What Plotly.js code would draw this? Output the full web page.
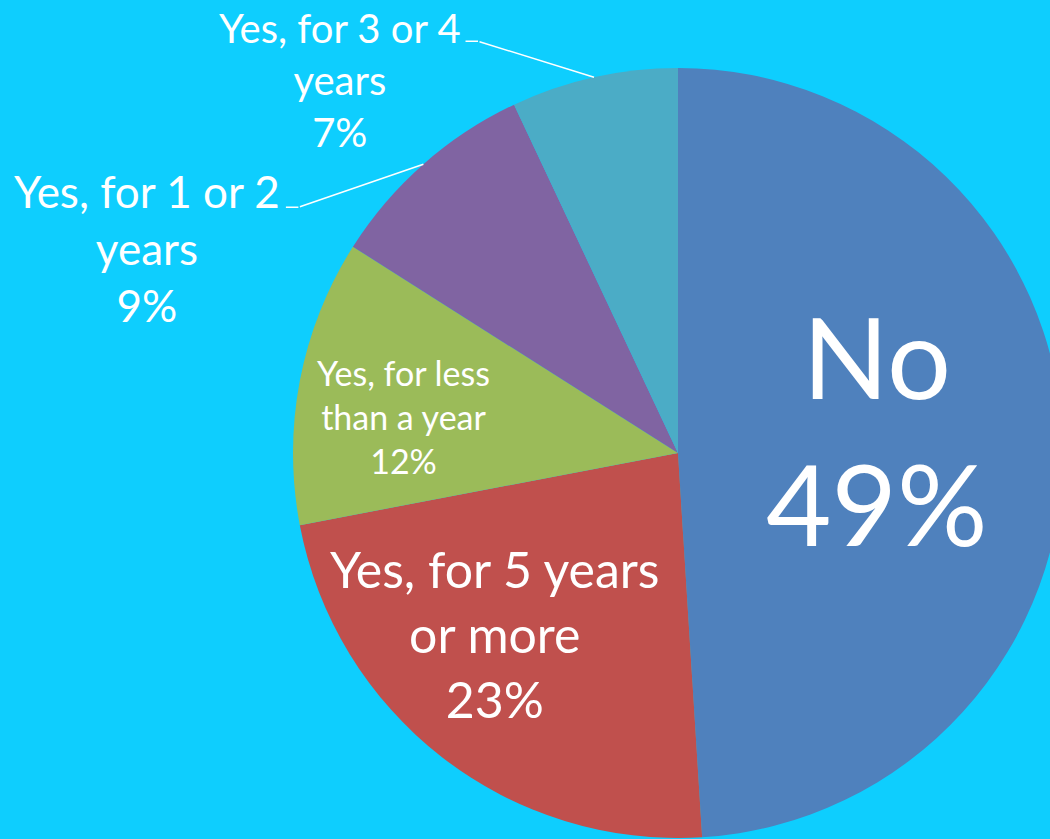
<!DOCTYPE html>
<html>
<head>
<meta charset="utf-8">
<script src="https://cdn.plot.ly/plotly-3.0.1.min.js"></script>
<style>
html, body { margin: 0; padding: 0; overflow: hidden; background: #0ECEFE; width: 1050px; height: 839px; }
#chart { width: 1100px; height: 900px; }
</style>
</head>
<body>
<div id="chart"></div>
<script>
// Data
const categories = ["No", "Yes, for 5 years or more", "Yes, for less than a year", "Yes, for 1 or 2 years", "Yes, for 3 or 4 years"];
const displayText = ["No", "Yes, for 5 years<br>or more", "Yes, for less<br>than a year", "Yes, for 1 or 2<br>years", "Yes, for 3 or 4<br>years"];
const values = [49, 23, 12, 9, 7];
const colors = ["#4F81BD", "#C0504D", "#9BBB59", "#8064A2", "#4BACC6"];

// Layout constants (pixels)
const W = 1100, H = 900;
const CX = 678, CY = 453, R = 385;
const FONT = "Lato, 'Open Sans', sans-serif";
const textSizes = [113, 50, 34, 44, 40];
// per slice label placement: radius fraction along the mid-angle, pixel nudges,
// and for outside labels a leader line tail offset from the rim point
const labelPlacement = [
  { f: 0.51, dx: 3, dy: -18 },
  { f: 0.60, dx: -41, dy: -2 },
  { f: 0.725, dx: 0, dy: 16 },
  { f: 1.0, dx: -276, dy: 84, lx: -125, ly: 43 },
  { f: 1.0, dx: -254, dy: 3, lx: -116, ly: -36 }
];

const total = values.reduce((a, b) => a + b, 0);

const trace = {
  type: "pie",
  labels: categories,
  values: values,
  textinfo: "none",
  sort: false,
  direction: "clockwise",
  rotation: 0,
  marker: { colors: colors, line: { width: 0 } },
  domain: { x: [(CX - R) / W, (CX + R) / W], y: [1 - (CY + R) / H, 1 - (CY - R) / H] },
  hoverinfo: "label+percent",
  automargin: false
};

const annotations = [];
let cum = 0;
values.forEach((v, i) => {
  const mid = (cum + v / 2) / total;
  cum += v;
  const ang = mid * 2 * Math.PI;
  const p = labelPlacement[i];
  const px = CX + p.f * R * Math.sin(ang);
  const py = CY - p.f * R * Math.cos(ang);
  const pct = Math.round(v / total * 100) + "%";
  if (p.lx !== undefined) {
    // leader line from rim to label
    annotations.push({
      xref: "paper", yref: "paper", x: px / W, y: 1 - py / H,
      text: "", showarrow: true, arrowhead: 0, arrowwidth: 1.5, arrowcolor: "#FFFFFF",
      ax: p.lx, ay: p.ly, standoff: 0, startstandoff: 0
    });
    annotations.push({
      xref: "paper", yref: "paper", x: (px + p.lx) / W, y: 1 - (py + p.ly) / H,
      text: "", showarrow: true, arrowhead: 0, arrowwidth: 1.5, arrowcolor: "#FFFFFF",
      ax: -14, ay: 0, standoff: 0, startstandoff: 0
    });
  }
  annotations.push({
    xref: "paper", yref: "paper",
    x: (px + p.dx) / W, y: 1 - (py + p.dy) / H,
    xanchor: "center", yanchor: "middle",
    text: displayText[i] + "<br>" + pct,
    showarrow: false, align: "center",
    font: { family: FONT, color: "#FFFFFF", size: textSizes[i] }
  });
});

const layout = {
  width: W,
  height: H,
  margin: { l: 0, r: 0, t: 0, b: 0 },
  paper_bgcolor: "#0ECEFE",
  plot_bgcolor: "#0ECEFE",
  showlegend: false,
  font: { family: FONT, color: "#FFFFFF" },
  annotations: annotations
};

Plotly.newPlot("chart", [trace], layout, { displayModeBar: false, staticPlot: true });
</script>
</body>
</html>
